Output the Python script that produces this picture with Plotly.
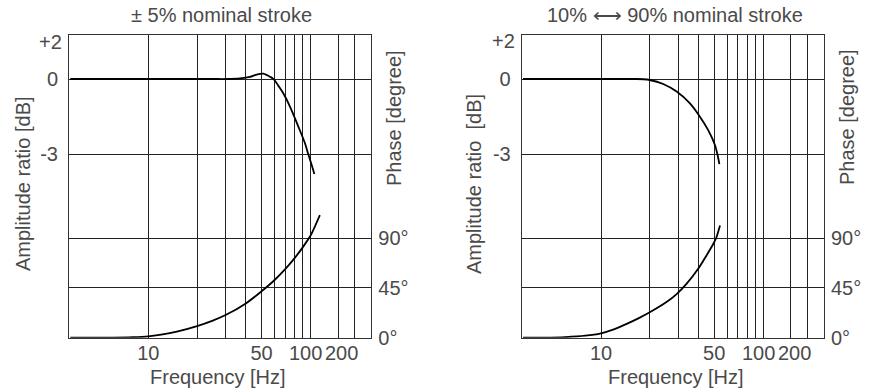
import math
import plotly.graph_objects as go

# ---------------- data ----------------
panel_titles = ["\u00b1 5% nominal stroke", "10% \u27f7 90% nominal stroke"]
amp_titles = ["Amplitude ratio [dB]", "Amplitude ratio  [dB]"]
phase_title = "Phase [degree]"
x_title = "Frequency [Hz]"

grid_freqs = [10, 20, 30, 40, 50, 60, 70, 80, 90, 100, 200, 300]
grid_labels = ["10", "", "", "", "50", "", "", "", "", "100", "200", ""]
amp_ticks = [2, 0, -3]
amp_labels = ["+2", "0", "-3"]
phase_ticks = [0, 45, 90]
phase_labels = ["0\u00b0", "45\u00b0", "90\u00b0"]

# left panel (±5 % stroke)
left_amp_freq = [3.3, 25, 30, 36.8, 42.5, 45.6, 49.0, 51.3, 53.8, 56.4, 58.6, 60.5, 64, 68.1, 74.9, 84.4, 92.7, 97.2, 104, 110.5]
left_amp_db = [0, 0, 0.0, 0.03, 0.10, 0.18, 0.23, 0.24, 0.18, 0.10, 0.03, -0.07, -0.3, -0.57, -1.10, -1.90, -2.56, -3.0, -3.45, -3.78]
left_phase_freq = [3.3, 6, 8, 10, 12, 15, 20, 25, 30, 40, 50, 60, 70, 80, 90, 100, 112, 127]
left_phase_deg = [0, 0, 0.4, 1.2, 2.8, 5.5, 10.5, 15.5, 20.5, 31, 42, 52, 62, 72, 82, 92, 100.6, 111]

# right panel (10 % <-> 90 % stroke)
right_amp_freq = [3.3, 16.6, 18.3, 20.0, 24.2, 29.3, 35.4, 40.8, 45.9, 50.5, 52.3, 53.8]
right_amp_db = [0, 0, -0.01, -0.04, -0.2, -0.5, -0.97, -1.50, -2.04, -2.63, -3.0, -3.39]
right_phase_freq = [3.3, 4.5, 6, 8, 10, 12, 14.4, 17, 20, 25.5, 29.3, 33.8, 39.9, 44.9, 49.3, 51.3, 54.3]
right_phase_deg = [0, 0, 0.5, 1.8, 4, 7.5, 12.5, 17.5, 23, 32.5, 39.5, 48.9, 62.6, 74.7, 84.8, 90, 101.6]


# ------------- the chart's own (schematic) scales -------------
def fpos(f):
    """Log frequency scale, compressed above 100 Hz as in the original drawing."""
    u = math.log10(f)
    return u if u <= 2 else 2 + 0.57 * (u - 2)


def apos(db):
    """Amplitude scale: positive dB drawn slightly compressed as in the original."""
    return db * 22 / 25.1 if db > 0 else db


W, H = 871, 391
FONT = "Liberation Sans, Arial, sans-serif"
TXT = "#4a4a4a"
GRID = "#222222"

fig = go.Figure()

panels = [
    (left_amp_freq, left_amp_db, left_phase_freq, left_phase_deg),
    (right_amp_freq, right_amp_db, right_phase_freq, right_phase_deg),
]
x_domains = [[69 / W, 371.3 / W], [521.7 / W, 824 / W]]
y_domain = [(H - 337.7) / H, (H - 35) / H]

for i, (af, ad, pf, pd) in enumerate(panels):
    xa = "x" if i == 0 else "x2"
    ya_amp = "y" if i == 0 else "y3"
    ya_ph = "y2" if i == 0 else "y4"
    fig.add_trace(go.Scatter(x=[fpos(f) for f in af], y=[apos(v) for v in ad],
                             mode="lines", line=dict(color="black", width=1.8, shape="spline", smoothing=0.8),
                             xaxis=xa, yaxis=ya_amp, showlegend=False, hoverinfo="skip"))
    fig.add_trace(go.Scatter(x=[fpos(f) for f in pf], y=pd,
                             mode="lines", line=dict(color="black", width=1.8, shape="spline", smoothing=0.8),
                             xaxis=xa, yaxis=ya_ph, showlegend=False, hoverinfo="skip"))

xrange = [1 - 79.3 / 162, 1 + (371.3 - 148.3) / 162]
amp_range = [-(337.7 - 79) / 25.1, apos(2)]
phase_range = [0, 274]

tickfont = dict(family=FONT, size=20, color=TXT)

# "100" and "200" are set slightly apart from their grid lines in the original,
# so those two labels are drawn as axis-referenced texts below
axis_tick_text = [t if f < 100 else "" for f, t in zip(grid_freqs, grid_labels)]

common_x = dict(type="linear", range=xrange, tickmode="array",
                tickvals=[fpos(f) for f in grid_freqs], ticktext=axis_tick_text,
                showgrid=True, gridcolor=GRID, gridwidth=1, zeroline=False,
                showline=True, linecolor="#333333", linewidth=1, mirror=True,
                ticks="", tickangle=0, ticklabelstandoff=-3, tickfont=tickfont,
                fixedrange=True, automargin=False)
# the "+2" label sits just below the top edge in the original, so it is drawn as its own text
common_amp = dict(type="linear", range=amp_range, tickmode="array",
                  tickvals=[apos(v) for v in amp_ticks], ticktext=[""] + amp_labels[1:],
                  showgrid=True, gridcolor=GRID, gridwidth=1, zeroline=False,
                  showline=True, linecolor="#333333", linewidth=1, mirror=True,
                  ticks="", ticklabelstandoff=6, tickfont=tickfont, fixedrange=True,
                  domain=y_domain, automargin=False)
common_ph = dict(type="linear", range=phase_range, tickmode="array",
                 tickvals=phase_ticks, ticktext=phase_labels,
                 showgrid=True, gridcolor=GRID, gridwidth=1, zeroline=False,
                 showline=False, side="right",
                 ticks="", ticklabelstandoff=6, tickfont=tickfont, fixedrange=True,
                 automargin=False)

fig.update_layout(
    width=W, height=H,
    margin=dict(l=0, r=0, t=0, b=0, autoexpand=False),
    paper_bgcolor="white", plot_bgcolor="white",
    font=dict(family=FONT, size=20, color=TXT),
    xaxis=dict(common_x, domain=x_domains[0], anchor="y"),
    yaxis=dict(common_amp, anchor="x"),
    yaxis2=dict(common_ph, overlaying="y", anchor="x"),
    xaxis2=dict(common_x, domain=x_domains[1], anchor="y3"),
    yaxis3=dict(common_amp, anchor="x2"),
    yaxis4=dict(common_ph, overlaying="y3", anchor="x2"),
)

ann = []
def add_text(text, px, py, angle=0, size=20, xanchor="center"):
    ann.append(dict(text=text, x=px / W, y=1 - py / H, xref="paper", yref="paper",
                    xanchor=xanchor, yanchor="middle", showarrow=False, textangle=angle,
                    font=dict(family=FONT, size=size, color=TXT)))

add_text(panel_titles[0], 221, 15)
add_text(panel_titles[1], 675, 15)
add_text(amp_titles[0], 23, 184, -90)
add_text(amp_titles[1], 474, 184, -90)
add_text(phase_title, 394, 118, -90)
add_text(phase_title, 847, 117, -90)
add_text(x_title, 218, 377)
add_text(x_title, 676, 377)
add_text(amp_labels[0], 64, 42, xanchor="right")
add_text(amp_labels[0], 516.5, 41, xanchor="right")

label_shift = {100: -5, 200: 3.5}
for xref in ("x", "x2"):
    for f, t in zip(grid_freqs, grid_labels):
        if f >= 100 and t:
            ann.append(dict(text=t, x=fpos(f), xref=xref, y=1 - 353 / H, yref="paper",
                            xanchor="center", yanchor="middle", xshift=label_shift[f],
                            showarrow=False, borderpad=0,
                            font=dict(family=FONT, size=20, color=TXT)))
fig.update_layout(annotations=ann)

fig.write_html("out.html")
